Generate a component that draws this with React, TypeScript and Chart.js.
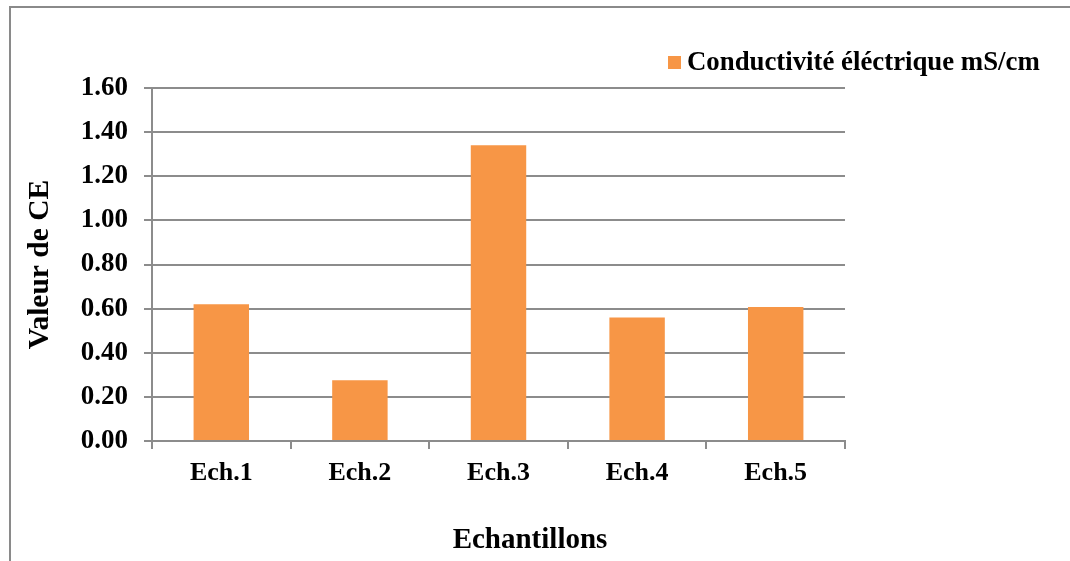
import React, { useEffect, useRef } from "react";
import { Chart, registerables } from "chart.js";

Chart.register(...registerables);

const categories: string[] = ["Ech.1", "Ech.2", "Ech.3", "Ech.4", "Ech.5"];
const conductivity: number[] = [0.62, 0.275, 1.34, 0.56, 0.607];
const seriesLabel = "Conductivité éléctrique mS/cm";
const xTitle = "Echantillons";
const yTitle = "Valeur de CE";
const yMin = 0;
const yMax = 1.6;
const yStep = 0.2;

const BAR_COLOR = "#F79646";
const GRID_COLOR = "#8c8c8c";
const FONT = '"Liberation Serif", "Times New Roman", serif';

const decorPlugin = {
  id: "decor",
  beforeDraw(chart: any) {
    const ctx = chart.ctx;
    ctx.save();
    ctx.strokeStyle = "#8a8a8a";
    ctx.lineWidth = 2;
    ctx.beginPath();
    ctx.moveTo(10, chart.height);
    ctx.lineTo(10, 7);
    ctx.lineTo(chart.width, 7);
    ctx.stroke();
    ctx.restore();
  },
  afterDraw(chart: any) {
    const ctx = chart.ctx;
    ctx.save();
    // legend
    ctx.fillStyle = BAR_COLOR;
    ctx.fillRect(668, 56, 13, 13);
    ctx.fillStyle = "#000";
    ctx.font = `bold 26.8px ${FONT}`;
    ctx.textBaseline = "middle";
    ctx.textAlign = "left";
    ctx.fillText(seriesLabel, 687, 63);
    // x axis title
    ctx.font = `bold 29px ${FONT}`;
    ctx.textAlign = "center";
    ctx.fillText(xTitle, 530, 541);
    ctx.restore();
  },
};

export default function App() {
  const canvasRef = useRef<HTMLCanvasElement | null>(null);

  useEffect(() => {
    document.body.style.margin = "0";
    const canvas = canvasRef.current;
    if (!canvas) return;
    const chart = new Chart(canvas, {
      type: "bar",
      data: {
        labels: categories,
        datasets: [
          {
            label: seriesLabel,
            data: conductivity,
            backgroundColor: BAR_COLOR,
            borderWidth: 0,
            barPercentage: 0.4,
            categoryPercentage: 1,
          },
        ],
      },
      options: {
        responsive: false,
        animation: false,
        layout: { padding: { top: 88, right: 225, bottom: 0, left: 0 } },
        plugins: {
          legend: { display: false },
          title: { display: false },
          tooltip: { enabled: false },
        },
        scales: {
          x: {
            offset: true,
            grid: {
              offset: true,
              drawOnChartArea: false,
              drawTicks: true,
              tickLength: 8,
              color: GRID_COLOR,
              lineWidth: 2,
            },
            border: { display: true, color: GRID_COLOR, width: 2 },
            ticks: {
              color: "#000",
              font: { family: FONT, size: 26, weight: "bold" },
              padding: 9,
              maxRotation: 0,
              autoSkip: false,
            },
            afterFit(scale: any) {
              scale.height = 120;
            },
          },
          y: {
            min: yMin,
            max: yMax,
            ticks: {
              stepSize: yStep,
              color: "#000",
              font: { family: FONT, size: 27, weight: "bold" },
              padding: 16,
              callback: (v: any) => Number(v).toFixed(2),
            },
            grid: {
              color: GRID_COLOR,
              lineWidth: 2,
              drawTicks: true,
              tickLength: 8,
            },
            border: { display: true, color: GRID_COLOR, width: 2 },
            title: {
              display: true,
              text: yTitle,
              color: "#000",
              font: { family: FONT, size: 29.5, weight: "bold" },
              padding: { top: 23, bottom: 0 },
            },
            afterFit(scale: any) {
              scale.width = 152;
            },
          },
        },
      },
      plugins: [decorPlugin],
    });
    return () => chart.destroy();
  }, []);

  return (
    <div style={{ width: 1070, height: 561 }}>
      <canvas ref={canvasRef} width={1070} height={561} />
    </div>
  );
}
